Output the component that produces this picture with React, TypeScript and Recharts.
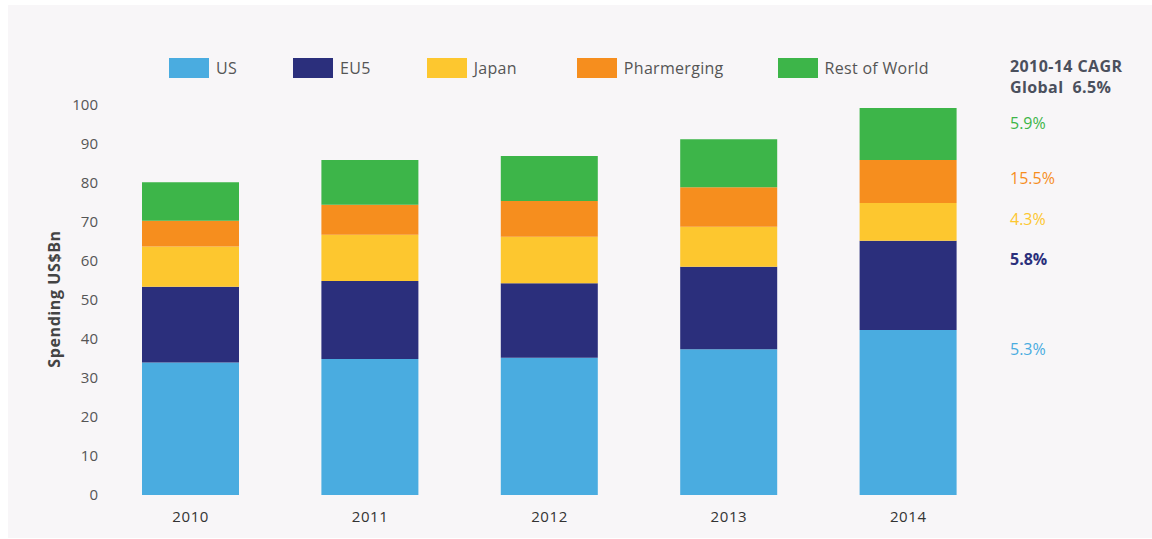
import React from 'react';
import { BarChart, Bar, XAxis, YAxis, Legend } from 'recharts';

const years = ['2010', '2011', '2012', '2013', '2014'];
const us = [34.0, 34.9, 35.2, 37.4, 42.3];
const eu5 = [19.4, 20.0, 19.1, 21.1, 22.9];
const japan = [10.3, 11.8, 11.9, 10.3, 9.7];
const pharmerging = [6.6, 7.7, 9.2, 10.1, 11.0];
const restOfWorld = [9.9, 11.5, 11.5, 12.3, 13.3];
const yTicks = [0, 10, 20, 30, 40, 50, 60, 70, 80, 90, 100];

const series = [
  { key: 'us', name: 'US', color: '#4aace0', cagr: '5.3%', cagrTop: 338 },
  { key: 'eu5', name: 'EU5', color: '#2b2f7c', cagr: '5.8%', cagrTop: 248 },
  { key: 'japan', name: 'Japan', color: '#fdc72f', cagr: '4.3%', cagrTop: 208 },
  { key: 'pharmerging', name: 'Pharmerging', color: '#f68e1e', cagr: '15.5%', cagrTop: 167 },
  { key: 'row', name: 'Rest of World', color: '#3db549', cagr: '5.9%', cagrTop: 112 },
];

// gap after each legend entry
const legendGaps = [56, 56, 60, 54, 0];

const data = years.map((year, i) => ({
  year,
  us: us[i],
  eu5: eu5[i],
  japan: japan[i],
  pharmerging: pharmerging[i],
  row: restOfWorld[i],
}));

const font = '"Open Sans", Lato, sans-serif';

function LegendRow() {
  return (
    <div
      style={{
        display: 'flex',
        alignItems: 'center',
        height: 20,
        fontFamily: font,
        fontSize: 16,
        letterSpacing: 0.3,
        color: '#555',
      }}
    >
      {series.map((s, i) => (
        <div key={s.key} style={{ display: 'flex', alignItems: 'center', marginRight: legendGaps[i] }}>
          <span style={{ width: 40, height: 20, background: s.color, display: 'inline-block', marginRight: 7 }} />
          <span>{s.name}</span>
        </div>
      ))}
    </div>
  );
}

export default function App() {
  return (
    <div style={{ position: 'absolute', left: 0, top: 0, width: 1152, height: 539, background: '#fff', fontFamily: font }}>
      <div style={{ position: 'absolute', left: 8, top: 5, right: 0, bottom: 1, background: '#f8f6f8' }} />
      <div style={{ position: 'absolute', left: 0, top: 0 }}>
        <BarChart
          width={1152}
          height={539}
          data={data}
          margin={{ top: 85, right: 154, bottom: 14, left: 41 }}
          barSize={97}
        >
          <XAxis
            dataKey="year"
            height={30}
            axisLine={false}
            tickLine={false}
            tickSize={0}
            tickMargin={16}
            tick={{ fill: '#333', fontSize: 15, letterSpacing: 0.6, fontFamily: font }}
          />
          <YAxis
            width={60}
            domain={[0, 100]}
            ticks={yTicks}
            axisLine={false}
            tickLine={false}
            tickSize={0}
            tickMargin={3}
            tick={{ fill: '#555', fontSize: 15, fontFamily: font }}
          />
          <Legend
            verticalAlign="top"
            align="left"
            height={20}
            content={() => <LegendRow />}
            wrapperStyle={{ top: 58, left: 169, width: 900 }}
          />
          {series.map((s) => (
            <Bar key={s.key} dataKey={s.key} name={s.name} stackId="a" fill={s.color} isAnimationActive={false} />
          ))}
        </BarChart>
      </div>
      <div
        style={{
          position: 'absolute',
          left: 54,
          top: 299,
          transform: 'translate(-50%, -50%) rotate(-90deg)',
          whiteSpace: 'nowrap',
          fontWeight: 700,
          fontSize: 16,
          letterSpacing: 0.6,
          color: '#444',
        }}
      >
        Spending US$Bn
      </div>
      <div
        style={{
          position: 'absolute',
          left: 1010,
          top: 56,
          fontWeight: 700,
          fontSize: 16,
          letterSpacing: 0.4,
          color: '#4b505d',
          lineHeight: '21px',
        }}
      >
        <div>2010-14 CAGR</div>
        <div>Global&nbsp; 6.5%</div>
      </div>
      {series.map((s) => (
        <div
          key={s.key}
          style={{
            position: 'absolute',
            left: 1010,
            top: s.cagrTop,
            fontSize: 16,
            color: s.color,
            fontWeight: s.key === 'eu5' ? 700 : 400,
          }}
        >
          {s.cagr}
        </div>
      ))}
    </div>
  );
}
